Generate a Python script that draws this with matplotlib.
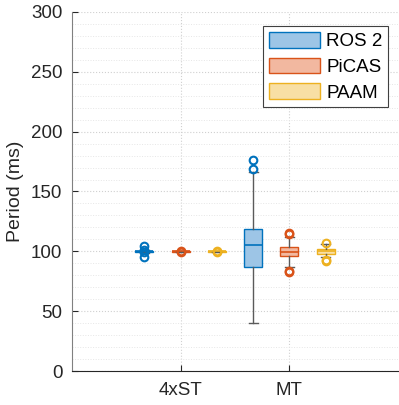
import matplotlib
matplotlib.use("Agg")
import matplotlib.pyplot as plt
from matplotlib.patches import Patch
from matplotlib.ticker import MultipleLocator

plt.rcParams['font.family'] = ['Liberation Sans', 'DejaVu Sans']

groups = ["4xST", "MT"]
series = ["ROS 2", "PiCAS", "PAAM"]
edge_colors = ["#0072BD", "#D95319", "#EDB120"]
face_colors = ["#9DC5E6", "#F2B8A0", "#F8DFA4"]

# per group, per series: (whislo, q1, med, q3, whishi, outliers)
stats_4xST = [
    (99.0, 99.6, 100.0, 100.4, 101.0, [104.4, 100.8, 99.2, 95.6]),
    (99.6, 99.8, 100.0, 100.2, 100.4, [100.6, 99.4]),
    (99.6, 99.8, 100.0, 100.2, 100.4, [100.6, 99.4]),
]
stats_MT = [
    (40.4, 87.1, 105.5, 118.9, 166.0, [176.3, 168.7]),
    (86.6, 95.8, 99.7, 103.3, 111.7, [115.5, 114.8, 83.5, 82.7]),
    (95.5, 98.0, 100.0, 101.7, 106.3, [107.2, 92.5, 91.9]),
]
all_stats = [stats_4xST, stats_MT]

fig = plt.figure(figsize=(3.99, 4.05), dpi=100)
ax = fig.add_axes([72/399, 1 - 371/405, (398 - 72)/399, (371 - 12)/405])

offsets = [-1/3, 0, 1/3]
width = 0.165
for gi, gstats in enumerate(all_stats):
    for si, st in enumerate(gstats):
        lo, q1, med, q3, hi, fl = st
        d = dict(whislo=lo, q1=q1, med=med, q3=q3, whishi=hi, fliers=fl)
        ax.bxp([d], positions=[gi + 1 + offsets[si]], widths=width,
               patch_artist=True, showfliers=True,
               boxprops=dict(facecolor=face_colors[si], edgecolor=edge_colors[si], linewidth=1.0),
               medianprops=dict(color=edge_colors[si], linewidth=1.2),
               whiskerprops=dict(color="#5a5a5a", linewidth=1.0),
               capprops=dict(color="#5a5a5a", linewidth=1.0),
               capwidths=width * 0.5,
               flierprops=dict(marker='o', markerfacecolor='none',
                               markeredgecolor=edge_colors[si], markersize=5.5,
                               markeredgewidth=1.5),
               zorder=3)

ax.set_xlim(0, 3)
ax.set_ylim(0, 300)
ax.set_xticks([1, 2])
ax.set_xticklabels(groups)
ax.yaxis.set_major_locator(MultipleLocator(50))
ax.yaxis.set_minor_locator(MultipleLocator(10))
ax.set_ylabel("Period (ms)", fontsize=14, color="#262626", labelpad=5)

for s in ["top", "right"]:
    ax.spines[s].set_visible(False)
ax.spines["bottom"].set_color("#262626")
ax.spines["bottom"].set_linewidth(0.8)
ax.spines["left"].set_color("#808080")
ax.spines["left"].set_linewidth(0.8)

ax.tick_params(axis='both', direction='in', labelsize=13.5, colors="#262626", length=4)
ax.tick_params(axis='y', pad=7)
ax.tick_params(axis='x', pad=8)
ax.tick_params(axis='y', which='minor', length=0)
ax.tick_params(axis='x', which='both', top=False)
ax.set_xticks([], minor=True)

ax.grid(True, which='major', linestyle=':', color='#d0d0d0', linewidth=0.8, zorder=0)
ax.grid(True, which='minor', axis='y', linestyle=':', color='#e6e6e6', linewidth=0.7, zorder=0)
ax.set_axisbelow(True)

handles = [Patch(facecolor=face_colors[i], edgecolor=edge_colors[i], linewidth=1.0, label=series[i])
           for i in range(3)]
leg = ax.legend(handles=handles, loc='upper right', bbox_to_anchor=(0.97, 0.96),
                fontsize=13.5, handlelength=2.7, handleheight=0.9,
                fancybox=False, framealpha=1, edgecolor="#404040",
                borderpad=0.3, labelspacing=0.4, handletextpad=0.35, borderaxespad=0)
leg.get_frame().set_linewidth(0.8)

fig.savefig("out.png", dpi=100)
